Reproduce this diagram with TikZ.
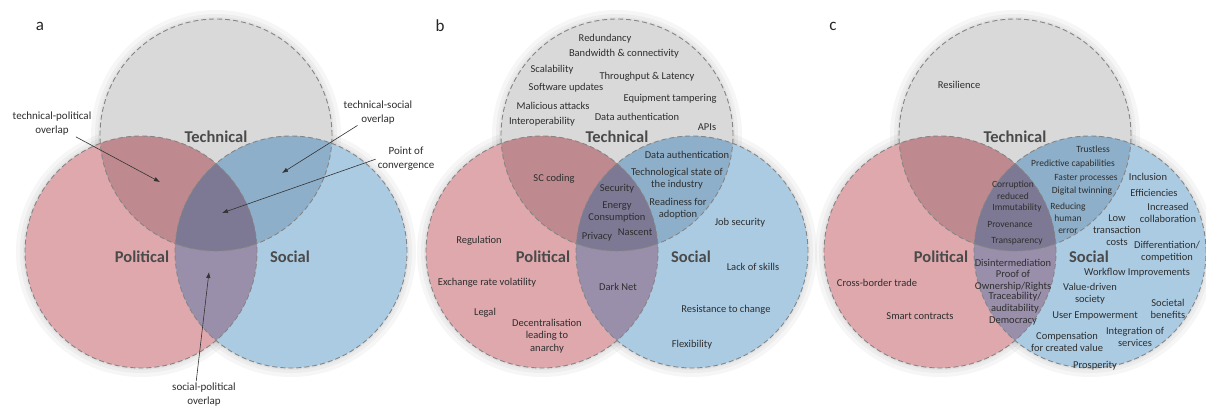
\documentclass[tikz,border=0pt]{standalone}
\usepackage{fontspec}
\setmainfont{Carlito}
\usetikzlibrary{arrows.meta}
\definecolor{tcol}{HTML}{D9D9D9}
\definecolor{pcol}{HTML}{DEA8AD}
\definecolor{scol}{HTML}{ABCBE3}
\definecolor{tpcol}{HTML}{BE8A8F}
\definecolor{tscol}{HTML}{8EAFC9}
\definecolor{pscol}{HTML}{9A8FAB}
\definecolor{tpscol}{HTML}{7D7893}
\definecolor{ringcol}{HTML}{858585}
\definecolor{txt}{HTML}{2E2E2E}
\definecolor{bigtxt}{HTML}{4A4A4A}
\tikzset{
  ring/.style={circle, draw=ringcol, line width=0.9pt, dash pattern=on 5pt off 3pt, minimum size=232pt, inner sep=0pt},
  glow/.style={draw=black, line width=#1, opacity=0.035},
  lab/.style={font=\fontsize{10.5}{12.3}\selectfont, text=txt, align=center, inner sep=0pt},
  labs/.style={font=\fontsize{9.5}{12}\selectfont, text=txt, align=center, inner sep=0pt},
  alab/.style={font=\fontsize{11}{14}\selectfont, text=txt, align=center, inner sep=0pt},
  biglab/.style={font=\fontsize{16.5}{18}\selectfont\bfseries, text=bigtxt, inner sep=0pt},
  panellab/.style={font=\fontsize{17}{18}\selectfont, text=black!85, inner sep=0pt},
  arr/.style={draw=black!80, line width=0.6pt, -{Latex[length=6pt,width=4.5pt]}, shorten <=2pt}
}
\newcommand\vennglow[1]{%
  \draw[glow=14pt] (#1) circle[radius=118pt];
  \draw[glow=8pt] (#1) circle[radius=117pt];
  \draw[glow=4pt] (#1) circle[radius=116pt];
}
\newcommand\vennpanel[2]{%
  \coordinate (T#2) at (#1,135);
  \coordinate (P#2) at (#1-75,252);
  \coordinate (S#2) at (#1+75,252);
  \vennglow{T#2}\vennglow{P#2}\vennglow{S#2}
  \fill[tcol] (T#2) circle[radius=116pt];
  \fill[pcol] (P#2) circle[radius=116pt];
  \fill[scol] (S#2) circle[radius=116pt];
  \begin{scope}
    \clip (T#2) circle[radius=116pt];
    \fill[tpcol] (P#2) circle[radius=116pt];
    \fill[tscol] (S#2) circle[radius=116pt];
  \end{scope}
  \begin{scope}
    \clip (P#2) circle[radius=116pt];
    \fill[pscol] (S#2) circle[radius=116pt];
    \clip (T#2) circle[radius=116pt];
    \fill[tpscol] (S#2) circle[radius=116pt];
  \end{scope}
  \node[ring] (tech#2) at (T#2) {};
  \node[ring] (pol#2) at (P#2) {};
  \node[ring] (soc#2) at (S#2) {};
  \node[biglab] (techlab#2) at (#1,137) {Technical};
  \node[biglab] (pollab#2) at (#1-74,257) {Political};
  \node[biglab] (soclab#2) at (#1+74,257) {Social};
}
\begin{document}
\begin{tikzpicture}[x=1pt,y=-1pt]
\fill[white] (0,0) rectangle (1206,408);
\useasboundingbox (0,0) rectangle (1206,408);

% panel letters
\node[panellab] (la) at (40,26) {a};
\node[panellab] (lb) at (440,26) {b};
\node[panellab] (lc) at (833,26) {c};

\vennpanel{216}{a}
\vennpanel{617}{b}
\vennpanel{1015}{c}

% ---- panel a annotations
\node[alab] (atp) at (52,124) {technical-political\\overlap};
\node[alab] (ats) at (378,112.5) {technical-social\\overlap};
\node[alab] (apc) at (406,158.5) {Point of\\convergence};
\node[alab] (asp) at (204,395) {social-political\\overlap};
\coordinate (atpE) at (160,182);
\coordinate (atsE) at (282,173);
\coordinate (apcE) at (222,213);
\coordinate (aspE) at (209,272);
\draw[arr] (atp) -- (atpE);
\draw[arr] (ats) -- (atsE);
\draw[arr] (apc.west) -- (apcE);
\draw[arr] ([xshift=-8pt]asp.north) -- (aspE);

% ---- panel b
\node[lab] (b1) at (605,39) {Redundancy};
\node[lab] (b2) at (624,54) {Bandwidth \& connectivity};
\node[lab] (b3) at (552,70) {Scalability};
\node[lab] (b4) at (647,77) {Throughput \& Latency};
\node[lab] (b5) at (566,88) {Software updates};
\node[lab] (b6) at (670,99) {Equipment tampering};
\node[lab] (b7) at (553,106) {Malicious attacks};
\node[lab] (b8) at (637,117) {Data authentication};
\node[lab] (b9) at (542,122) {Interoperability};
\node[lab] (b10) at (707,127) {APIs};
\node[lab] (b11) at (687,155) {Data authentication};
\node[lab] (b12) at (677,179) {Technological state of\\the industry};
\node[lab] (b13) at (554,179) {SC coding};
\node[lab] (b14) at (617,189) {Security};
\node[lab] (b15) at (617,212) {Energy\\Consumption};
\node[lab] (b16) at (678,208.5) {Readiness for\\adoption};
\node[lab] (b17) at (597,237) {Privacy};
\node[lab] (b18) at (635,232) {Nascent};
\node[lab] (b19) at (740,223) {Job security};
\node[lab] (b20) at (479,241) {Regulation};
\node[lab] (b21) at (753,267) {Lack of skills};
\node[lab] (b22) at (487,283) {Exchange rate volatility};
\node[lab] (b23) at (618,287) {Dark Net};
\node[lab] (b24) at (726,310) {Resistance to change};
\node[lab] (b25) at (485,313) {Legal};
\node[lab] (b26) at (547,336) {Decentralisation\\leading to\\anarchy};
\node[lab] (b27) at (692,345) {Flexibility};

% ---- panel c
\node[lab] (c1) at (959,85) {Resilience};
\node[labs] (c2) at (1093,149) {Trustless};
\node[labs] (c3) at (1073,164) {Predictive capabilities};
\node[labs] (c4) at (1086,178) {Faster processes};
\node[lab] (c5) at (1148,177) {Inclusion};
\node[labs] (c6) at (1082,191) {Digital twinning};
\node[lab] (c7) at (1154,193) {Efficiencies};
\node[labs] (c8) at (1013,190) {Corruption\\reduced};
\node[labs] (c9) at (1017,208) {Immutability};
\node[labs] (c10) at (1068,218) {Reducing\\human\\error};
\node[lab] (c11) at (1168,213) {Increased\\collaboration};
\node[lab] (c12) at (1117,230) {Low\\transaction\\costs};
\node[labs] (c13) at (1010,224) {Provenance};
\node[labs] (c14) at (1017,241) {Transparency};
\node[lab] (c15) at (1167,251.5) {Differentiation/\\competition};
\node[lab] (c16) at (1013,263) {Disintermediation};
\node[lab] (c17) at (1137,273) {Workflow Improvements};
\node[lab] (c18) at (1013,280.5) {Proof of\\Ownership/Rights};
\node[lab] (c19) at (877,283) {Cross-border trade};
\node[lab] (c20) at (1090,294) {Value-driven\\society};
\node[lab] (c21) at (1015,303) {Traceability/\\auditability};
\node[lab] (c22) at (1168,309) {Societal\\benefits};
\node[lab] (c23) at (1095,316) {User Empowerment};
\node[lab] (c24) at (1013,321) {Democracy};
\node[lab] (c25) at (920,316) {Smart contracts};
\node[lab] (c26) at (1067,342) {Compensation\\for created value};
\node[lab] (c27) at (1135,337) {Integration of\\services};
\node[lab] (c28) at (1095,366) {Prosperity};
\end{tikzpicture}
\end{document}
